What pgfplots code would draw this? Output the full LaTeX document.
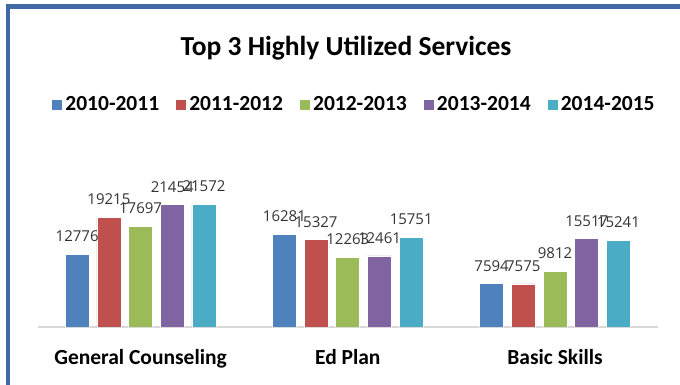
\documentclass[border=0pt]{standalone}
\usepackage{pgfplots}
\pgfplotsset{compat=1.18}
\usepackage{fontspec}
\setmainfont{Carlito}
\newfontfamily\labelfont{Open Sans}
\definecolor{c1}{HTML}{4F81BD}
\definecolor{c2}{HTML}{C0504D}
\definecolor{c3}{HTML}{9BBB59}
\definecolor{c4}{HTML}{8064A2}
\definecolor{c5}{HTML}{4BACC6}
\definecolor{frame}{RGB}{65,105,165}
\definecolor{axisgray}{HTML}{D9D9D9}
\begin{document}
\begin{tikzpicture}[x=1pt,y=1pt]
\useasboundingbox (0,0) rectangle (680,385);
\draw[frame, line width=4.5pt] (8,0) -- (8,378.5) -- (680,378.5);
\node[anchor=base, font=\fontsize{27.5}{30}\selectfont\bfseries] at (346,329.3) {Top 3 Highly Utilized Services};
\begin{axis}[
  at={(38pt,58pt)}, anchor=south west,
  scale only axis, width=620pt, height=142.5pt,
  ymin=0, ymax=25000, xmin=-0.495, xmax=2.497,
  ybar=7.7pt, bar width=24pt,
  axis y line=none,
  axis x line*=bottom,
  x axis line style={axisgray, line width=1.5pt, -},
  xtick={0,1,2}, xticklabels={General Counseling, Ed Plan, Basic Skills},
  major tick length=0pt,
  xticklabel style={font=\fontsize{21.5}{24}\selectfont\bfseries, anchor=base, yshift=-37.3pt},
  point meta=rawy,
  nodes near coords={\pgfmathprintnumber[1000 sep={},assume math mode=true]{\pgfplotspointmeta}},
  nodes near coords style={font=\labelfont\fontsize{15}{17}\selectfont, text=black!80, anchor=base, inner sep=0pt, yshift=12.5pt},
  legend columns=5,
  legend style={at={(0.51,1.561)}, anchor=center, draw=none, fill=none,
    font=\fontsize{21.5}{24}\selectfont\bfseries,
    /tikz/every even column/.append style={column sep=13.5pt},
    nodes={inner xsep=2.5pt}},
  legend image code/.code={\fill[#1] (0pt,-5.5pt) rectangle (11pt,5.5pt);},
  every axis plot/.append style={draw=white, line width=0.6pt},
]
\addplot[fill=c1] coordinates {(0,12776) (1,16281) (2,7594)};
\addplot[fill=c2] coordinates {(0,19215) (1,15327) (2,7575)};
\addplot[fill=c3] coordinates {(0,17697) (1,12263) (2,9812)};
\addplot[fill=c4] coordinates {(0,21454) (1,12461) (2,15517)};
\addplot[fill=c5] coordinates {(0,21572) (1,15751) (2,15241)};
\legend{2010-2011,2011-2012,2012-2013,2013-2014,2014-2015}
\end{axis}
\end{tikzpicture}
\end{document}
